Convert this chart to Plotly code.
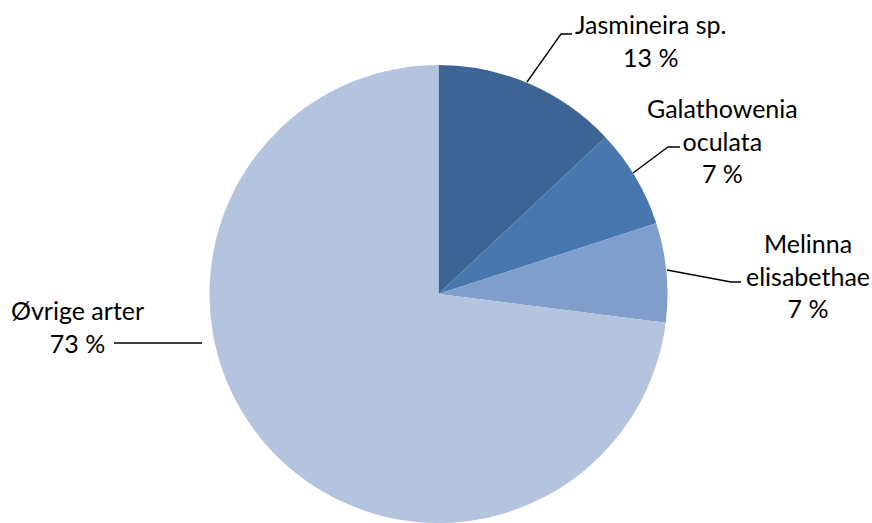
import plotly.graph_objects as go

# Species share of individuals
labels = ["Jasmineira sp.", "Galathowenia oculata", "Melinna elisabethae", "Øvrige arter"]
display_names = ["Jasmineira sp.", "Galathowenia<br>oculata", "Melinna<br>elisabethae", "Øvrige arter"]
values = [13, 7, 7, 73]
colors = ["#3C6494", "#4877B0", "#7F9ECB", "#B4C3DE"]

W, H = 872, 523
cx, cy, r = 438.5, 294, 229  # pie centre / radius in px (from top-left)


def px(x):
    return x / W


def py(y):
    return 1 - y / H


fig = go.Figure(
    go.Pie(
        labels=labels,
        values=values,
        sort=False,
        direction="clockwise",
        rotation=0,
        marker=dict(colors=colors, line=dict(width=0)),
        textinfo="none",
        hoverinfo="label+percent",
        domain=dict(x=[px(cx - r), px(cx + r)], y=[py(cy + r), py(cy - r)]),
        showlegend=False,
    )
)

# label placement (centre of text block) and leader-line paths, in px
label_pos = [(651, 40.5), (722, 140.5), (807.5, 275.5), (77, 326)]
leaders = [
    [(527, 82), (561, 34), (572, 34)],
    [(633, 173), (668, 147), (680, 147)],
    [(667, 270), (731, 282), (741, 282)],
    [(202, 343), (114, 343)],
]

total = sum(values)
for name, v, (lx, ly) in zip(display_names, values, label_pos):
    pct = round(100 * v / total)
    fig.add_annotation(
        x=px(lx), y=py(ly), xref="paper", yref="paper",
        text=f"{name}<br>{pct} %", showarrow=False,
        xanchor="center", yanchor="middle", align="center",
        font=dict(family="Lato", size=25, color="#000000"),
    )

for pts in leaders:
    path = "M " + " L ".join(f"{px(x)},{py(y)}" for x, y in pts)
    fig.add_shape(type="path", path=path, xref="paper", yref="paper",
                  line=dict(color="#000000", width=1.3))

fig.update_layout(
    width=W, height=H,
    margin=dict(l=0, r=0, t=0, b=0),
    paper_bgcolor="white", plot_bgcolor="white",
)

fig.write_html("out.html")
